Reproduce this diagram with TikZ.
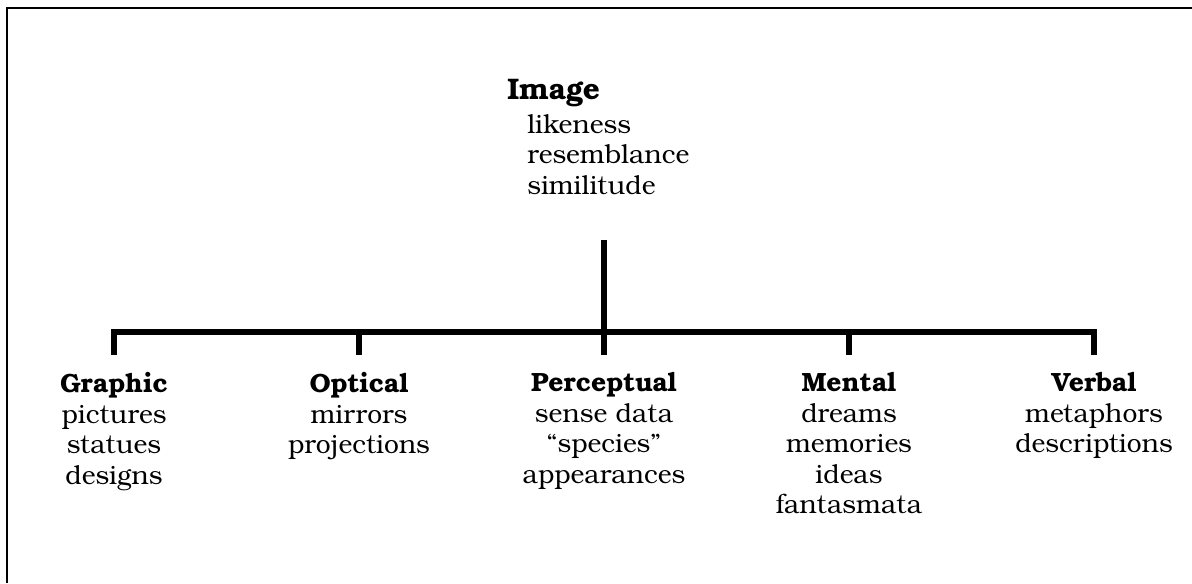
\documentclass[tikz,border=0pt]{standalone}
\usepackage{fontspec}
\setmainfont{TeX Gyre Bonum}
\begin{document}
\begin{tikzpicture}[x=0.75pt,y=-0.75pt]
   \tikzstyle{every node}=[font=\fontsize{19.8}{22.9}\selectfont, inner sep=0pt]
   \tikzstyle{kind}=[align=center, anchor=north, inner xsep=0pt, inner ysep=13pt]
   \tikzstyle{branch}=[line width=4.5pt, line join=miter]
   \tikzstyle{frame}=[line width=1.5pt]

   \useasboundingbox (0,0) rectangle (1192,583);
   \draw[frame] (7,583) -- (7,8) -- (1192,8);

   % top of the tree
   \node[anchor=base west, font=\fontsize{22.3}{26}\selectfont\bfseries] (image) at (507,99) {Image};
   \node[anchor=north west, align=left] (senses) at (527,114) {likeness\\resemblance\\similitude};
   \coordinate (stem) at (604,240);
   \coordinate (hub) at (604,331.5);
   \draw[branch] (stem) -- (hub);

   % the five kinds
   \node[kind] (graphic) at (114,355) {\textbf{Graphic}\\pictures\\statues\\designs};
   \node[kind] (optical) at (359,355) {\textbf{Optical}\\mirrors\\projections};
   \node[kind] (perceptual) at (604,355) {\textbf{Perceptual}\\sense data\\“species”\\appearances};
   \node[kind] (mental) at (849,355) {\textbf{Mental}\\dreams\\memories\\ideas\\fantasmata};
   \node[kind] (verbal) at (1094,355) {\textbf{Verbal}\\metaphors\\descriptions};

   \foreach \k in {graphic,optical,perceptual,mental,verbal}
      \draw[branch] (\k.north) |- (hub);
\end{tikzpicture}
\end{document}
